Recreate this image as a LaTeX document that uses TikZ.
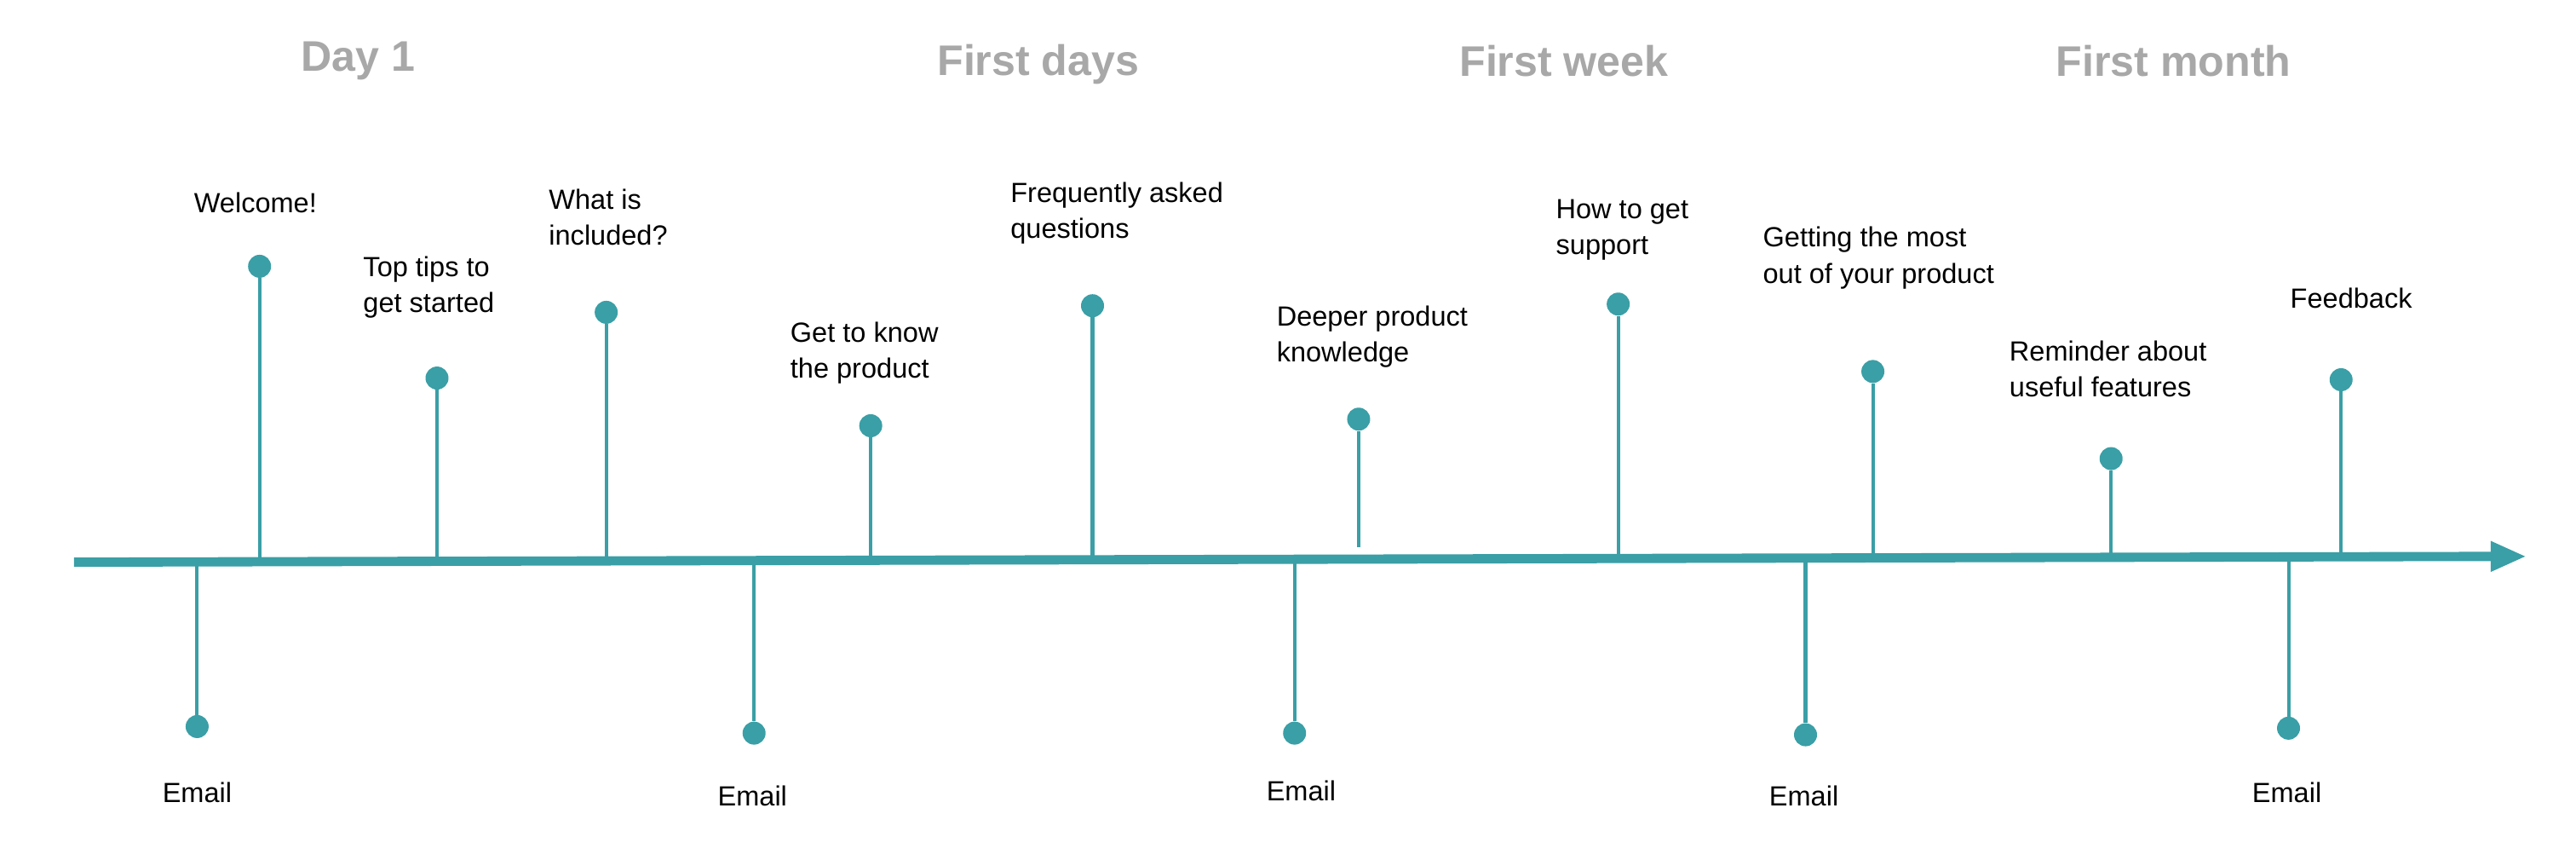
\documentclass[tikz,border=0pt]{standalone}
\usepackage{fontspec}
\setmainfont{Liberation Sans}
\definecolor{teal1}{HTML}{3A9FA6}
\definecolor{hdr}{HTML}{A8A8A8}
\begin{document}
\begin{tikzpicture}[x=0.05cm,y=-0.05cm,
  lbl/.style={anchor=north west,align=left,inner sep=0pt,font=\fontsize{24}{31}\selectfont},
  em/.style={anchor=center,inner sep=0pt,font=\fontsize{24}{31}\selectfont},
  hd/.style={anchor=center,inner sep=0pt,text=hdr,font=\fontsize{37}{44}\selectfont\bfseries},
  dot/.style={circle,fill=teal1,inner sep=0pt,minimum size=0.7cm},
  stem/.style={teal1,line width=3pt}]
\useasboundingbox (0,0) rectangle (1568,522.7);
\fill[white] (0,0) rectangle (1568,522.7);
% axis
\coordinate (a0) at (45,342);
\coordinate (a1) at (1518,338.5);
\draw[teal1,line width=8pt] (a0) -- (a1);
\fill[teal1] (1537,338.5) -- (1516,329) -- (1516,348) -- cycle;
% headers
\node[hd] (h1) at (218,37) {Day 1};
\node[hd] (h2) at (632,39) {First days};
\node[hd] (h3) at (952,37) {First week};
\node[hd] (h4) at (1323,37) {First month};
% upper stems
\foreach \n/\x/\y/\b in {u1/158/162/341, u2/266/230/341, u3/369/190/340, u4/530/259/340, u5/665/186/340, u6/827/255/333, u7/985/185/339, u8/1140/226/339, u9/1285/279/339, u10/1425/231/338}{
  \node[dot] (\n) at (\x,\y) {};
  \coordinate (\n b) at (\x,\b);
  \draw[stem] (\n) -- (\n b);
}
% lower stems
\foreach \n/\x/\y/\b in {l1/120/442/342, l2/459/446/341, l3/788/446/340, l4/1099/447/339, l5/1393/443/338}{
  \node[dot] (\n) at (\x,\y) {};
  \coordinate (\n b) at (\x,\b);
  \draw[stem] (\n) -- (\n b);
}
% labels
\node[lbl] (t1) at (118,117) {Welcome!};
\node[lbl] (t2) at (221,156) {Top tips to\\get started};
\node[lbl] (t3) at (334,115) {What is\\included?};
\node[lbl] (t4) at (481,196) {Get to know\\the product};
\node[lbl] (t5) at (615,111) {Frequently asked\\questions};
\node[lbl] (t6) at (777,186) {Deeper product\\knowledge};
\node[lbl] (t7) at (947,121) {How to get\\support};
\node[lbl] (t8) at (1073,138) {Getting the most\\out of your product};
\node[lbl] (t9) at (1223,207) {Reminder about\\useful features};
\node[lbl] (t10) at (1394,175) {Feedback};
\node[em] (e1) at (120,482) {Email};
\node[em] (e2) at (458,484) {Email};
\node[em] (e3) at (792,481) {Email};
\node[em] (e4) at (1098,484) {Email};
\node[em] (e5) at (1392,482) {Email};
\end{tikzpicture}
\end{document}
